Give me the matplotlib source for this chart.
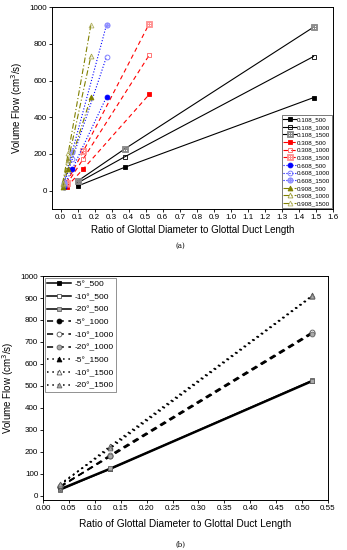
import matplotlib
matplotlib.use("Agg")
import matplotlib.pyplot as plt

plt.rcParams['font.family'] = ['Liberation Sans', 'DejaVu Sans']

# ---- panel (a) data ----
x108 = [0.100, 0.376, 1.485]
x308 = [0.035, 0.133, 0.520]
x608 = [0.018, 0.068, 0.270]
x908 = [0.012, 0.045, 0.178]

y108 = {'500': [25, 127, 507], '1000': [42, 184, 731], '1500': [52, 227, 891]}
y308 = {'500': [20, 118, 524], '1000': [33, 173, 738], '1500': [43, 214, 909]}
y608 = {'500': [20, 116, 511], '1000': [30, 170, 731], '1500': [40, 210, 905]}
y908 = {'500': [22, 120, 509], '1000': [35, 165, 733], '1500': [40, 205, 902]}

# ---- panel (b) data ----
xb = [0.033, 0.130, 0.520]
yb = {
    '-5°_500': [28, 120, 520],
    '-10°_500': [25, 122, 525],
    '-20°_500': [31, 125, 524],
    '-5°_1000': [40, 180, 740],
    '-10°_1000': [38, 185, 745],
    '-20°_1000': [43, 178, 738],
    '-5°_1500': [50, 220, 910],
    '-10°_1500': [47, 226, 912],
    '-20°_1500': [53, 215, 908],
}

fig = plt.figure(figsize=(3.47, 5.5), dpi=100)

# ---------------- (a) ----------------
ax = fig.add_axes([0.150, 0.620, 0.810, 0.367])

groups = [
    ('0.108', x108, y108, '-', ['black', 'black', '#888888'], ['s', 's', r'$\boxplus$']),
    ('0.308', x308, y308, (0, (4, 3)), ['red', '#ff6060', '#ff9090'], ['s', 's', r'$\boxplus$']),
    ('0.608', x608, y608, ':', ['blue', '#7070ff', '#9090ff'], ['o', 'o', r'$\oplus$']),
    ('0.908', x908, y908, (0, (5, 2, 1, 2)), ['#808000', '#a0a040', '#b0b060'], ['^', '^', '^']),
]
for name, xs, ys, ls, cols, mks in groups:
    for j, key in enumerate(['500', '1000', '1500']):
        mk = mks[j]
        fc = cols[j] if j == 0 else 'none'
        ms = 3.5
        if mk.startswith('$'):
            fc = cols[j]
            ms = 3.8
        ax.plot(xs, ys[key], linestyle=ls, color=cols[0], lw=0.8, marker=mk, ms=ms,
                mfc=fc, mec=cols[j], mew=0.6, label=name + '_' + key)

ax.set_xlim(-0.05, 1.6)
ax.set_ylim(-100, 1000)
ax.set_xticks([i / 10 for i in range(17)])
ax.set_yticks([0, 200, 400, 600, 800, 1000])
ax.tick_params(labelsize=5.8, length=2, width=0.6, direction='out', pad=1.5)
for s in ax.spines.values():
    s.set_linewidth(0.7)
ax.set_xlabel('Ratio of Glottal Diameter to Glottal Duct Length', fontsize=7, labelpad=3)
ax.set_ylabel('Volume Flow (cm$^3$/s)', fontsize=7, labelpad=3)
leg = ax.legend(loc='lower right', fontsize=4.5, labelspacing=0.36, handlelength=2,
                handletextpad=0.2, borderpad=0.25, borderaxespad=0.2,
                fancybox=False, edgecolor='#444444', framealpha=1)
leg.get_frame().set_linewidth(0.5)
fig.text(0.52, 0.553, '(a)', ha='center', va='center', fontsize=5, family='DejaVu Serif')

# ---------------- (b) ----------------
bx = fig.add_axes([0.124, 0.091, 0.821, 0.407])

styles_b = {
    '500': ('-', 's'),
    '1000': ((0, (4, 3)), 'o'),
    '1500': ((0, (1, 2.5)), '^'),
}
shade = {'-5°': ('black', 'black'), '-10°': ('#555555', 'white'), '-20°': ('#666666', '#aaaaaa')}
for label, ys in yb.items():
    ang, flow = label.split('_')
    ls, mk = styles_b[flow]
    ec, fc = shade[ang]
    bx.plot(xb, ys, linestyle=ls, color='black', lw=1.1, marker=mk, ms=3.5,
            mfc=fc, mec=ec, mew=0.6, label=label)

bx.set_xlim(0, 0.55)
bx.set_ylim(-20, 1000)
bx.set_xticks([i * 0.05 for i in range(12)])
bx.set_xticklabels(['%.2f' % (i * 0.05) for i in range(12)])
bx.set_yticks(range(0, 1001, 100))
bx.tick_params(labelsize=5.8, length=2, width=0.6, direction='out', pad=1.5)
for s in bx.spines.values():
    s.set_linewidth(0.7)
bx.set_xlabel('Ratio of Glottal Diameter to Glottal Duct Length', fontsize=7.3, labelpad=5)
bx.set_ylabel('Volume Flow (cm$^3$/s)', fontsize=7, labelpad=3)
leg2 = bx.legend(loc='upper left', fontsize=6, labelspacing=0.58, handlelength=2.9,
                 handletextpad=0.4, borderpad=0.3, borderaxespad=0.2,
                 fancybox=False, edgecolor='#666666', framealpha=1)
leg2.get_frame().set_linewidth(0.5)
fig.text(0.52, 0.01, '(b)', ha='center', va='center', fontsize=5, family='DejaVu Serif')

fig.savefig('out.png', dpi=100)
